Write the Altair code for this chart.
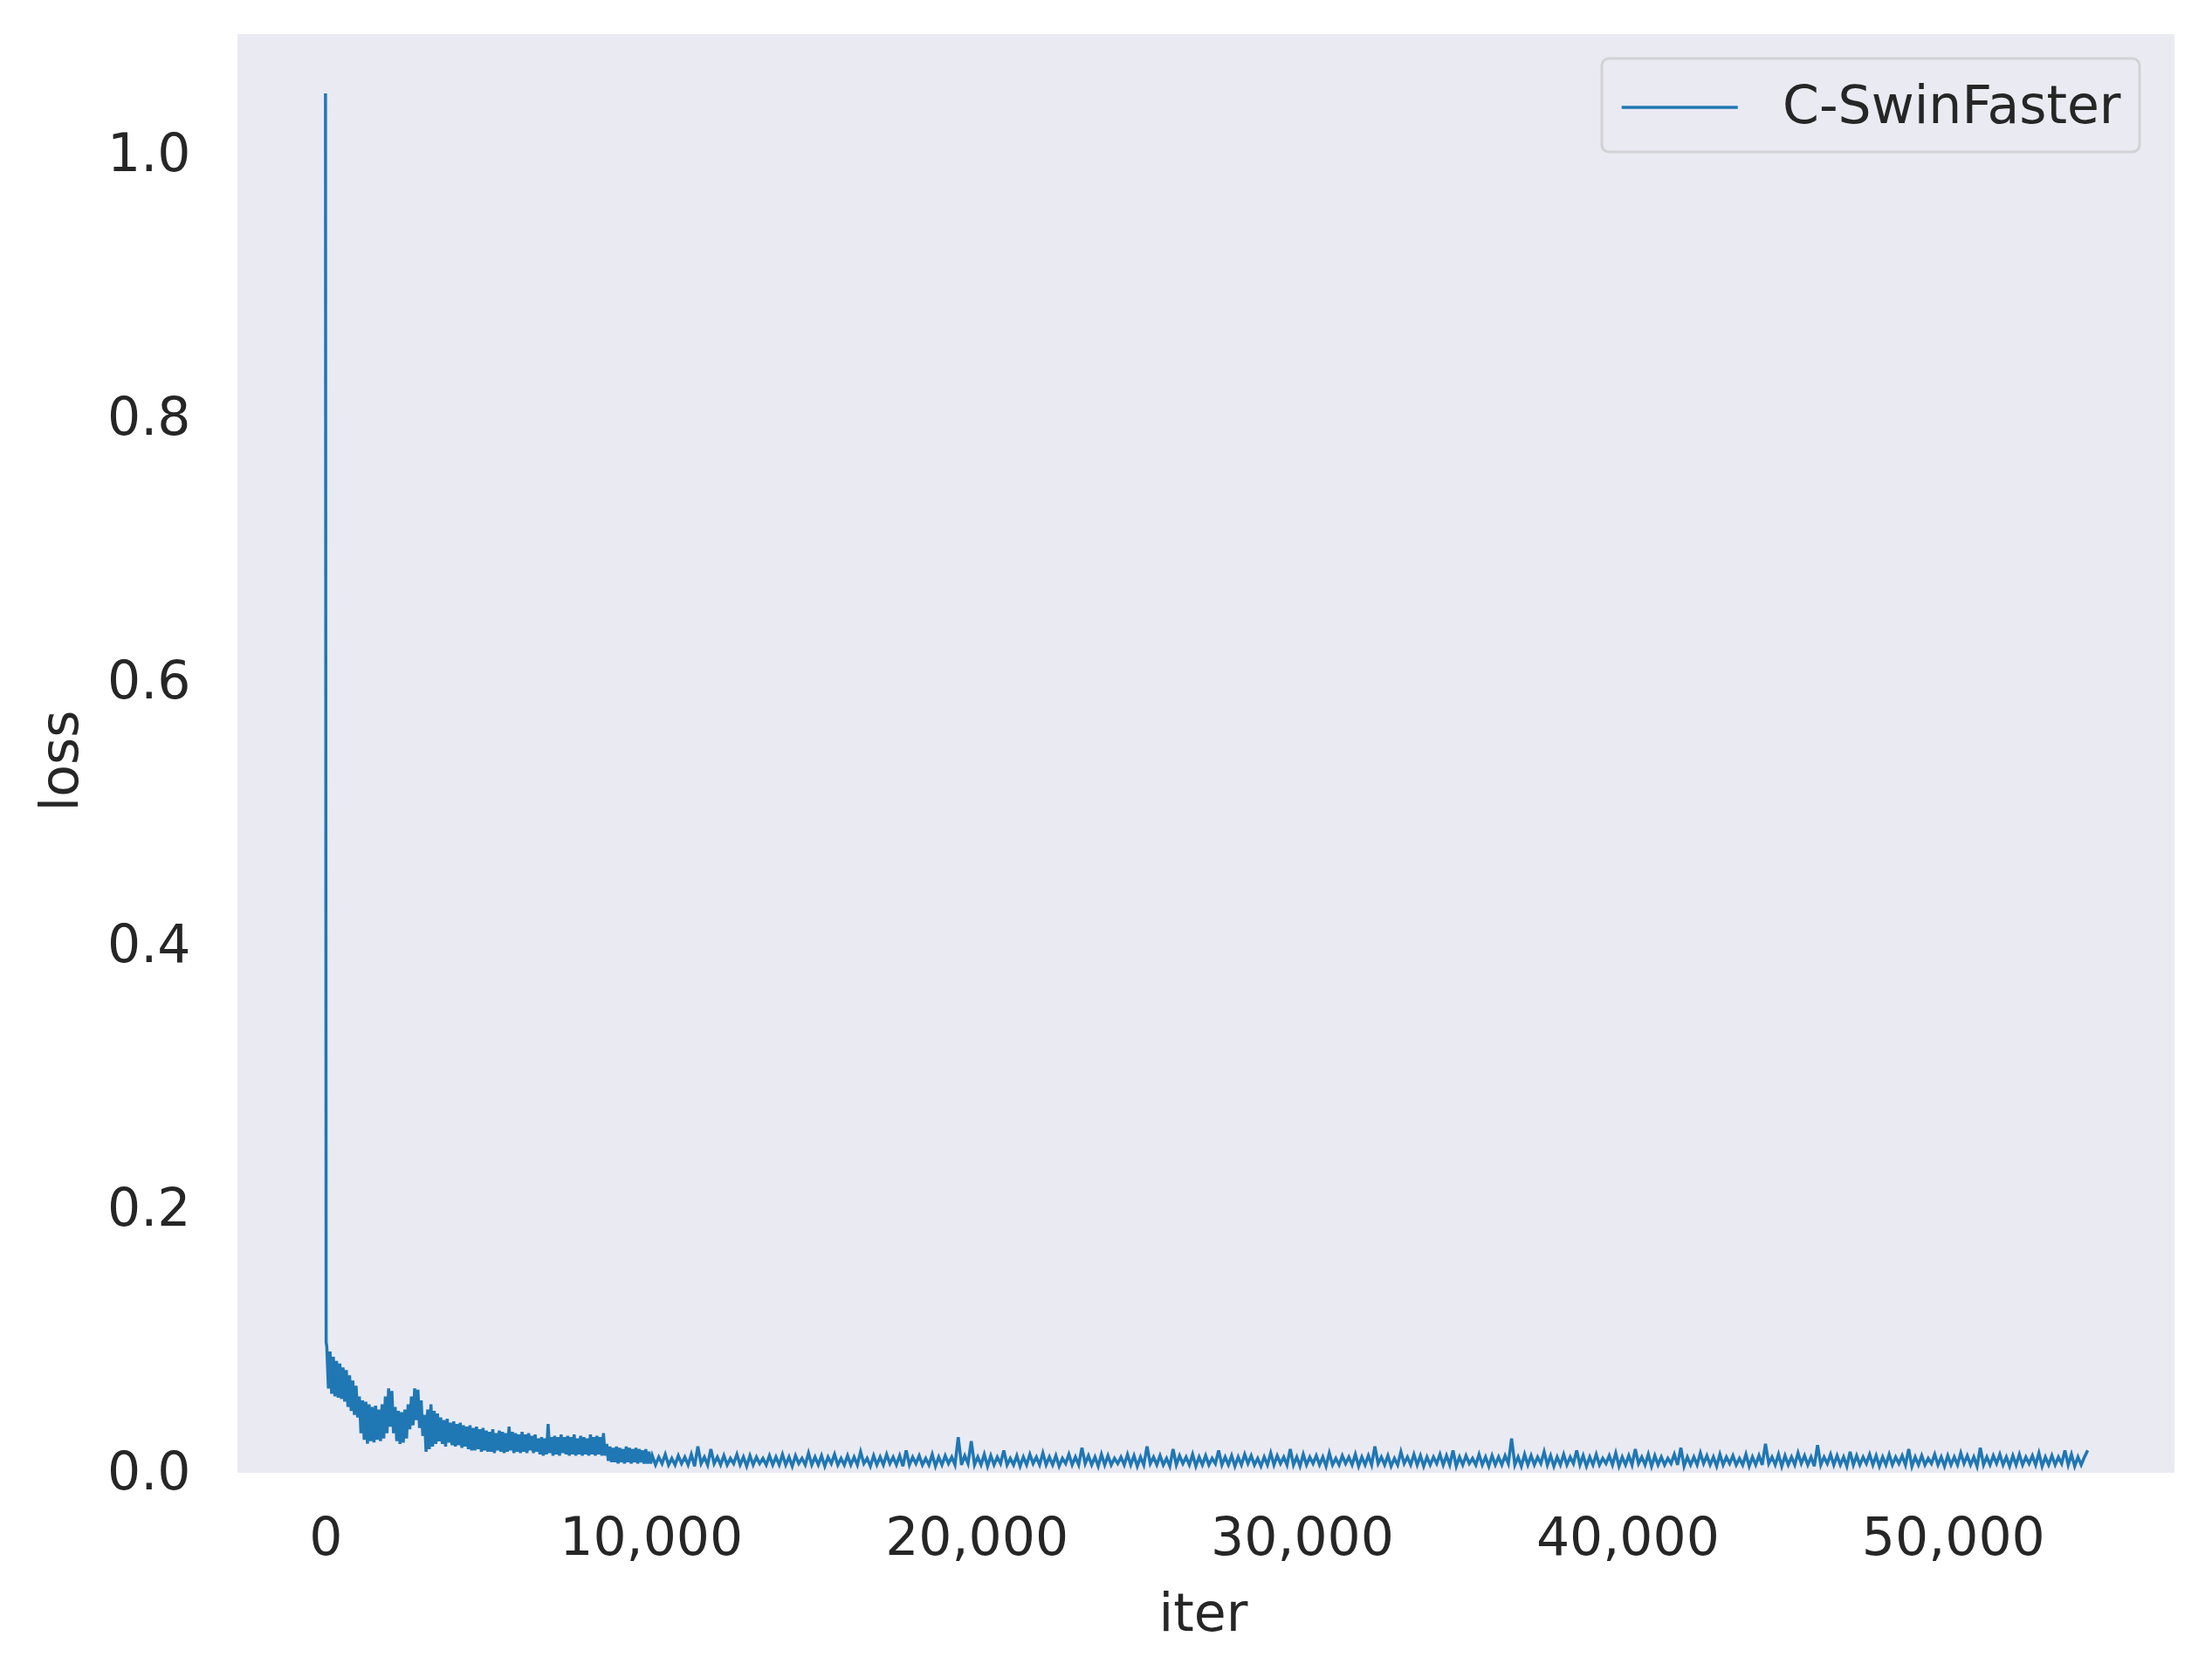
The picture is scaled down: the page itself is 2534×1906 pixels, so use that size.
import altair as alt
import pandas as pd

SERIES = "C-SwinFaster"

# initial spike (iter, loss)
spike_iter = [0, 20]
spike_loss = [1.047, 0.099]

# early phase, logged every 50 iters from iter 40 (loss in thousandths)
early_start, early_step = 40, 50
early_loss_milli = [
    96, 64, 92, 60, 88, 58,
    85, 57, 83, 56, 80, 54,
    78, 50, 74, 47, 70, 44, 66, 42,
    58, 30, 55, 25, 54, 22,
    52, 24, 50, 23, 51, 25,
    48, 24, 52, 26, 58, 30, 64, 35,
    62, 30, 50, 24, 47, 22, 46, 23, 48, 26,
    52, 33, 58, 36, 64, 40, 63, 34, 55, 28,
    44, 16, 48, 18, 52, 20, 47, 22, 45, 24,
    42, 22, 40, 20, 41, 23, 38, 21, 39, 20,
    37, 21, 38, 19, 36, 20, 35, 18, 36, 17,
    34, 17, 35, 18, 33, 16, 34, 17, 32, 16,
    31, 16, 33, 15, 30, 17, 32, 16, 31, 15,
    30, 16, 35, 17, 31, 15, 30, 16, 29, 15,
    31, 16, 29, 15, 30, 17, 28, 15, 29, 16,
    26, 14, 27, 13, 26, 14, 37, 15, 27, 13,
    28, 14, 27, 13, 29, 15, 27, 14, 28, 13,
    27, 14, 29, 13, 26, 14, 28, 13, 27, 14,
    26, 13, 29, 14, 27, 13, 28, 14, 27, 13,
    30, 13, 22, 9, 20, 8, 19, 8, 20, 7,
    19, 8, 18, 7, 20, 8, 19, 7, 18, 8,
    19, 7, 18, 8, 17, 7, 18, 7, 16, 7,
]

# later phase, logged every 100 iters from iter 10040 (loss in thousandths)
late_start, late_step = 10040, 100
late_loss_milli = [
    13, 6, 12, 7, 14, 6, 11, 6, 13, 7, 12, 6, 14, 5, 20, 7, 12, 6, 18, 7,
    12, 6, 13, 6, 11, 7, 14, 6, 12, 5, 13, 6, 12, 7, 11, 6, 13, 6, 12, 6,
    14, 6, 12, 5, 13, 7, 11, 6, 15, 6, 12, 6, 13, 5, 12, 7, 14, 6, 11, 6,
    13, 6, 12, 6, 16, 7, 11, 5, 13, 6, 12, 6, 14, 7, 12, 6, 13, 5, 17, 6,
    12, 7, 13, 6, 11, 6, 14, 5, 12, 6, 13, 7, 12, 6, 27, 6, 13, 7, 24, 6,
    12, 6, 14, 5, 13, 6, 12, 7, 17, 6, 11, 6, 13, 5, 12, 6, 14, 7, 12, 6,
    15, 6, 12, 6, 13, 5, 11, 7, 14, 6, 12, 6, 19, 7, 13, 6, 12, 5, 14, 6,
    13, 6, 11, 7, 12, 6, 14, 6, 13, 5, 12, 6, 20, 7, 12, 6, 13, 6, 11, 5,
    18, 6, 13, 7, 12, 6, 14, 5, 12, 6, 13, 6, 11, 7, 17, 6, 12, 6, 13, 5,
    12, 6, 14, 7, 13, 6, 11, 5, 12, 6, 15, 6, 13, 7, 12, 6, 18, 6, 12, 5,
    14, 6, 12, 7, 13, 6, 12, 5, 15, 6, 11, 6, 13, 7, 12, 6, 14, 5, 12, 6,
    13, 6, 20, 7, 12, 6, 13, 5, 11, 6, 16, 7, 12, 6, 14, 6, 13, 5, 12, 6,
    12, 7, 14, 6, 13, 6, 17, 5, 12, 6, 13, 7, 11, 6, 14, 6, 12, 5, 13, 6,
    12, 6, 13, 7, 26, 6, 12, 5, 14, 6, 13, 6, 12, 7, 16, 6, 13, 5, 12, 6,
    14, 6, 12, 7, 17, 6, 13, 5, 12, 6, 14, 6, 11, 7, 13, 6, 15, 5, 12, 6,
    13, 6, 18, 7, 12, 6, 14, 5, 13, 6, 12, 6, 11, 7, 14, 6, 19, 5, 12, 6,
    12, 6, 15, 7, 13, 6, 12, 5, 14, 6, 12, 7, 13, 6, 11, 6, 14, 5, 12, 6,
    13, 6, 22, 7, 12, 6, 14, 5, 13, 6, 12, 6, 15, 7, 13, 6, 12, 5, 21, 6,
    12, 7, 14, 6, 13, 6, 12, 5, 16, 6, 13, 6, 12, 7, 14, 6, 13, 5, 12, 6,
    14, 6, 12, 7, 13, 6, 18, 5, 12, 6, 13, 6, 11, 7, 14, 6, 12, 5, 13, 6,
    12, 6, 15, 7, 13, 6, 12, 5, 19, 6, 12, 6, 13, 7, 14, 6, 12, 5, 13, 6,
    14, 6, 12, 7, 13, 6, 15, 5, 12, 6, 13, 6, 12, 7, 17, 6, 14, 5, 12, 6,
    12, 17,
]

y_ticks = [0.0, 0.2, 0.4, 0.6, 0.8, 1.0]
x_ticks = [0, 10000, 20000, 30000, 40000, 50000]

iters = list(spike_iter)
loss = list(spike_loss)
iters += [early_start + i * early_step for i in range(len(early_loss_milli))]
loss += [v / 1000 for v in early_loss_milli]
iters += [late_start + i * late_step for i in range(len(late_loss_milli))]
loss += [v / 1000 for v in late_loss_milli]

df = pd.DataFrame({"iter": iters, "loss": loss, "series": SERIES})

TXT = "#262626"
FONT = "DejaVu Sans"
W, H = 2219, 1648

chart = alt.Chart(df).mark_line(strokeWidth=3.5, clip=True).encode(
    x=alt.X("iter:Q",
            scale=alt.Scale(domain=[-2705, 56805], nice=False, zero=False),
            axis=alt.Axis(values=x_ticks, format=",d", title="iter",
                          titleX=1106, titleY=180, titleBaseline="alphabetic",
                          titleAlign="center", labelPadding=46,
                          labelBaseline="top")),
    y=alt.Y("loss:Q",
            scale=alt.Scale(domain=[0, 1.092], nice=False, zero=False),
            axis=alt.Axis(values=y_ticks, format=".1f", title="loss",
                          titleAngle=270, titleX=-184, titleY=832,
                          titleBaseline="alphabetic", titleAlign="center",
                          labelPadding=54)),
    color=alt.Color("series:N", scale=alt.Scale(range=["#1f77b4"]),
                    title=None,
                    legend=alt.Legend(orient="none", legendX=1563, legendY=28,
                                      symbolType="M-1,0H3", symbolSize=4422,
                                      symbolStrokeWidth=3.5, labelFontSize=60,
                                      labelFont=FONT, labelColor=TXT,
                                      labelLimit=1000,
                                      labelOffset=116, padding=21,
                                      fillColor="#EAEAF2", strokeColor="#D2D2D6",
                                      cornerRadius=8)),
).properties(
    width=W, height=H,
    autosize=alt.AutoSizeParams(type="none"),
    padding={"left": 264, "top": 31, "right": 30, "bottom": 200},
).configure_view(
    fill="#EAEAF2", stroke=None,
).configure_axis(
    domain=False, ticks=False, tickSize=0, grid=False, labelLimit=1000,
    labelFont=FONT, labelFontSize=60, labelColor=TXT,
    titleFont=FONT, titleFontSize=60, titleColor=TXT, titleFontWeight="normal",
).configure_legend(
    strokeWidth=3,
)

chart.save("out.html", embed_options={"renderer": "svg", "actions": False})
